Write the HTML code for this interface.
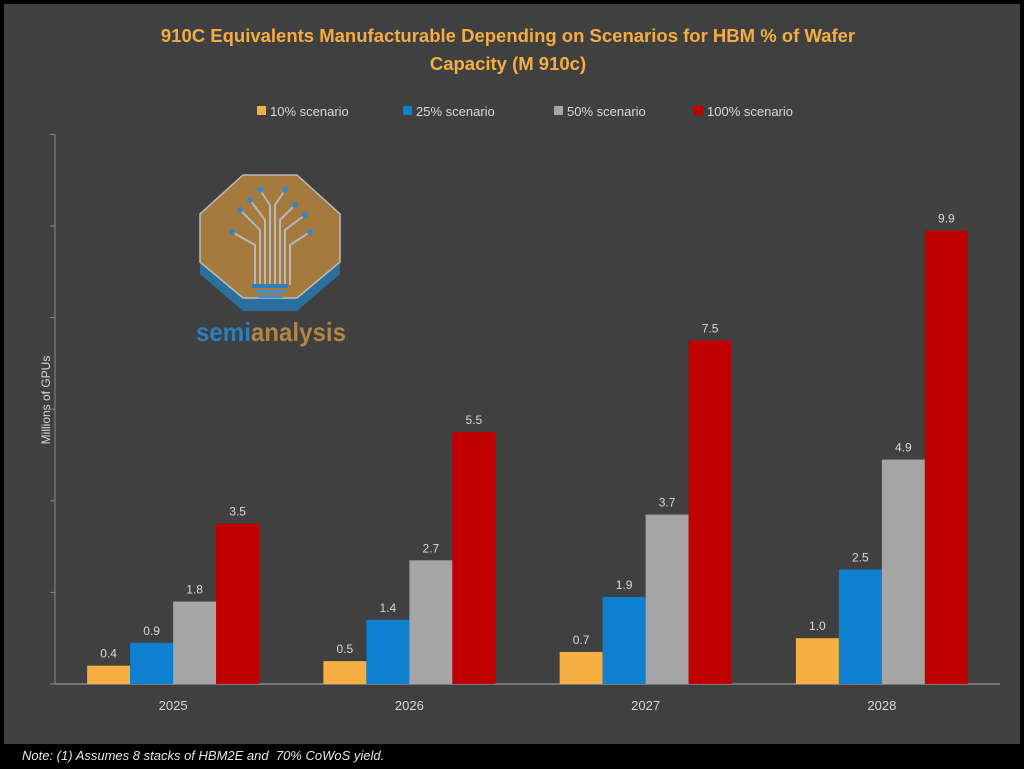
<!DOCTYPE html>
<html><head><meta charset="utf-8"><style>
body{margin:0;background:#000;}
#wrap{position:relative;width:1024px;height:769px;background:#000;font-family:"Liberation Sans",sans-serif;overflow:hidden}
#panel{position:absolute;left:4px;top:4px;width:1016px;height:740px;background:#404040}
#note{position:absolute;left:22px;top:748px;color:#e8e8e8;font-size:13px;font-style:italic}
</style></head><body>
<div id="wrap">
<div id="panel"></div>
<svg id="chart" width="1024" height="769" style="position:absolute;left:0;top:0">
<text x="508" y="42" text-anchor="middle" fill="#F4AD42" font-size="18.5" font-weight="bold">910C Equivalents Manufacturable Depending on Scenarios for HBM % of Wafer</text>
<text x="508" y="70" text-anchor="middle" fill="#F4AD42" font-size="18.5" font-weight="bold">Capacity (M 910c)</text>
<text x="50" y="400" text-anchor="middle" fill="#d9d9d9" font-size="12" transform="rotate(-90 50 400)">Millions of GPUs</text>
<g>
<polygon points="243,183 297,183 340,222 340,268 297,305 243,305 200,268 200,222" fill="#2a6f9e" transform="translate(0,6)"/>
<polygon points="243,175 297,175 340,214 340,262 297,298 243,298 200,262 200,214" fill="#A47A3E" stroke="#bbb" stroke-width="1.5"/>
<g stroke="#b8b8b8" stroke-width="2" fill="none">
<path d="M260 285 V230 L240 210 M265 285 V220 L250 200 M270 285 V205 L260 190 M275 285 V205 L285 190 M280 285 V220 L295 205 M285 285 V230 L305 215 M255 285 V245 L232 232 M290 285 V245 L310 232"/>
</g>
<g fill="#3a86c0"><circle cx="240" cy="210" r="3"/><circle cx="250" cy="200" r="3"/><circle cx="260" cy="190" r="3"/><circle cx="285" cy="190" r="3"/><circle cx="295" cy="205" r="3"/><circle cx="305" cy="215" r="3"/><circle cx="232" cy="232" r="3"/><circle cx="310" cy="232" r="3"/></g>
<rect x="252" y="284" width="36" height="4" fill="#2a7fc0"/><rect x="255" y="290" width="30" height="3" fill="#4a8fc4"/><rect x="258" y="295" width="24" height="3" fill="#4a8fc4"/>
<text x="196" y="341" font-size="26" font-weight="bold" fill="#2a7fc0" textLength="150" lengthAdjust="spacingAndGlyphs">semi<tspan fill="#B08545">analysis</tspan></text>
</g>
<g id="axes"></g><g id="bars"></g><g id="legend"></g>
</svg>
<div id="note">Note: (1) Assumes 8 stacks of HBM2E and &nbsp;70% CoWoS yield.</div>
</div>
<script>
const categories=["2025","2026","2027","2028"];
const seriesNames=["10% scenario","25% scenario","50% scenario","100% scenario"];
const s10=[0.4,0.5,0.7,1.0];
const s25=[0.9,1.4,1.9,2.5];
const s50=[1.8,2.7,3.7,4.9];
const s100=[3.5,5.5,7.5,9.9];
const yTicks=[0,2,4,6,8,10,12];
const colors=["#F5B041","#0F80D0","#A5A5A5","#C00000"];
const NS="http://www.w3.org/2000/svg";
const x0=55,x1=1000,y0=684,pxPerUnit=45.8;
const y=v=>y0-v*pxPerUnit;
const gw=(x1-x0)/categories.length,bw=43;
function mk(t,a,p){const e=document.createElementNS(NS,t);for(const k in a)e.setAttribute(k,a[k]);p.appendChild(e);return e;}
const ax=document.getElementById('axes');
const yl=mk('line',{x1:x0,x2:x0,y1:y(12),y2:y0,stroke:'#888','stroke-width':1},ax);


yTicks.forEach(t=>{const l=mk('line',{x1:x0-5,x2:x0,y1:y(t),y2:y(t),stroke:'#888'},ax);

});
const xl=mk('line',{x1:x0,x2:x1,y1:y0,y2:y0,stroke:'#999','stroke-width':1.2},ax);


const bars=document.getElementById('bars');
const all=[s10,s25,s50,s100];
categories.forEach((c,i)=>{
 const cx=x0+gw*(i+0.5);
 const lab=mk('text',{x:cx,y:710,'text-anchor':'middle',fill:'#d9d9d9','font-size':13},ax);lab.textContent=c;
 
 
 all.forEach((s,j)=>{
  const bx=cx-2*bw+j*bw;
  const r=mk('rect',{x:bx,y:y(s[i]),width:bw,height:y0-y(s[i]),fill:colors[j]},bars);
  
  
  const t=mk('text',{x:bx+bw/2,y:y(s[i])-8,'text-anchor':'middle',fill:'#d9d9d9','font-size':12},bars);
  t.textContent=s[i].toFixed(1);
  
  
 });
});
const lg=document.getElementById('legend');
const lx=[257,403,554,694];
seriesNames.forEach((n,j)=>{
 const r=mk('rect',{x:lx[j],y:106,width:9,height:9,fill:colors[j]},lg);
 
 
 const t=mk('text',{x:lx[j]+13,y:116,fill:'#d9d9d9','font-size':13},lg);t.textContent=n;
 
 
});
</script>
</body></html>
